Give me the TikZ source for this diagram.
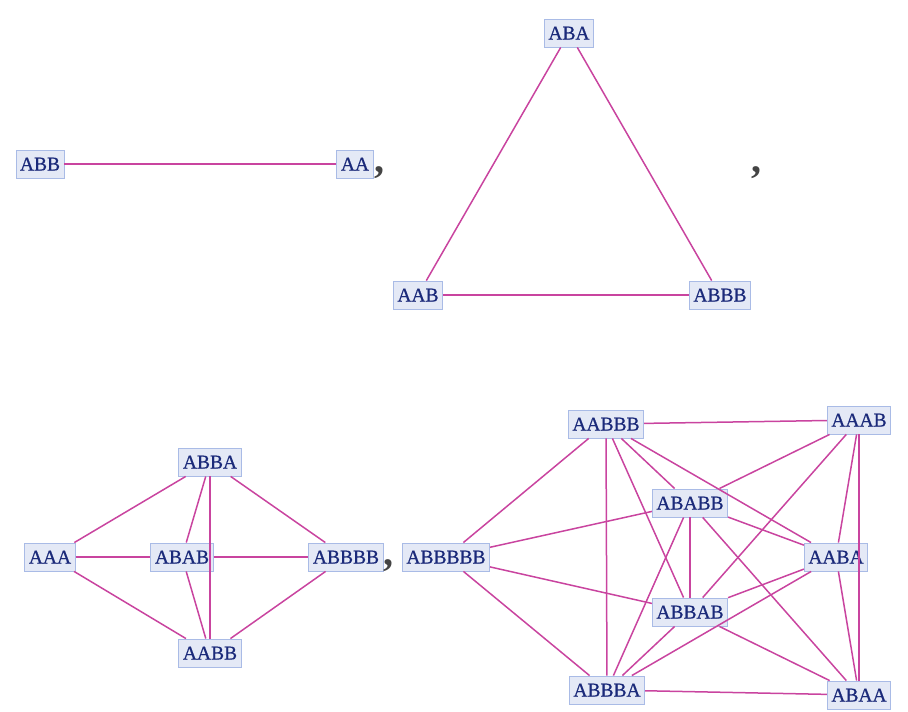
\documentclass[tikz,border=0pt]{standalone}
\usepackage{fontspec}
\setmainfont{Liberation Serif}
\newfontfamily\wordfont[FakeBold=0.6]{Liberation Serif}
\usetikzlibrary{positioning}
\definecolor{edgecol}{HTML}{C9449F}
\definecolor{boxfill}{HTML}{E4E9F6}
\definecolor{boxline}{HTML}{A9BBE6}
\definecolor{wordcol}{HTML}{1B2A7A}
\definecolor{commacol}{HTML}{444444}
\tikzset{
x=1pt, y=-1pt, % pixel units, y grows downwards
word/.style={draw=boxline, fill=boxfill, text=wordcol, line width=0.9pt, inner xsep=4pt, minimum height=28pt, text height=13pt, text depth=0pt, font=\wordfont\fontsize{19.5}{21}\selectfont}, % sets the look of each string vertex
link/.style={draw=edgecol, line width=1.5pt}, % the edges between strings
sep/.style={text=commacol, inner sep=0pt, anchor=base west, font=\fontsize{40}{40}\bfseries}, % commas between the graphs
}

\begin{document}
\begin{tikzpicture}
      \useasboundingbox (0,0) rectangle (908,712);
      % first graph
      \node[word] (abb) at (40,164) {ABB};
      \node[word] (aa) at (355,164) {AA};
      \node[sep] (c1) at (374,172) {,};
      % second graph
      \node[word] (aba) at (569,33) {ABA};
      \node[word] (aab) at (418,295) {AAB};
      \node[word] (abbb) at (720,295) {ABBB};
      \node[sep] (c2) at (751,172) {,};
      % third graph
      \node[word] (abba) at (210,462) {ABBA};
      \node[word] (aaa) at (50,557) {AAA};
      \node[word] (abab) at (182,557) {ABAB};
      \node[word] (abbbb) at (346,557) {ABBBB};
      \node[word] (aabb) at (210,653) {AABB};
      \node[sep] (c3) at (383,565) {,};
      % fourth graph
      \node[word] (abbbbb) at (446,557) {ABBBBB};
      \node[word] (aabbb) at (606,424) {AABBB};
      \node[word] (aaab) at (859,420) {AAAB};
      \node[word] (ababb) at (690,503) {ABABB};
      \node[word] (aaba) at (836,557) {AABA};
      \node[word] (abbab) at (690,612) {ABBAB};
      \node[word] (abbba) at (607,690) {ABBBA};
      \node[word] (abaa) at (859,695) {ABAA};
      \draw[link] (abb) edge (aa)
      (aba) edge (aab)
      (aba) edge (abbb)
      (aab) edge (abbb);
      \draw[link] (aaa) edge (abba)
      (aaa) edge (abab)
      (aaa) edge (aabb)
      (abba) edge (abab)
      (abba) edge (aabb)
      (abba) edge (abbbb)
      (abab) edge (abbbb)
      (abab) edge (aabb)
      (aabb) edge (abbbb);
      \draw[link] (aabbb) edge (aaab)
      (aabbb) edge (abbbbb)
      (aabbb) edge (abbba)
      (aabbb) edge (abbab)
      (aabbb) edge (ababb)
      (aabbb) edge (aaba)
      (aaab) edge (ababb)
      (aaab) edge (abbab)
      (aaab) edge (aaba)
      (aaab) edge (abaa)
      (ababb) edge (abbbbb)
      (ababb) edge (aaba)
      (ababb) edge (abbab)
      (ababb) edge (abbba)
      (ababb) edge (abaa)
      (aaba) edge (abbab)
      (aaba) edge (abbba)
      (aaba) edge (abaa)
      (abbab) edge (abbbbb)
      (abbab) edge (abbba)
      (abbab) edge (abaa)
      (abbba) edge (abaa)
      (abbba) edge (abbbbb);
\end{tikzpicture}
\end{document}
